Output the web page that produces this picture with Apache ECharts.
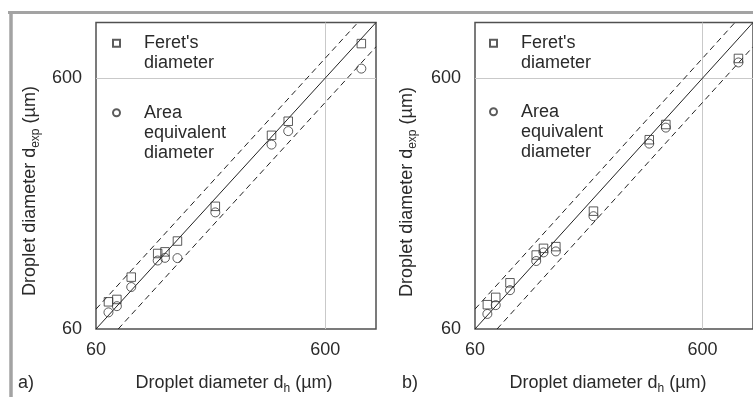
<!DOCTYPE html>
<html>
<head>
<meta charset="utf-8">
<script src="https://cdn.jsdelivr.net/npm/echarts@6.0.0/dist/echarts.min.js"></script>
<style>
html,body{margin:0;padding:0;background:#fff;}
#chart{width:753px;height:397px;}
</style>
</head>
<body>
<div id="chart"></div>
<script>
// ---- data ----
const dh = [68, 74, 85.5, 111.5, 120, 136, 199, 350, 414, 863];           // theoretical droplet diameter (µm)
const feretA = [77, 78.7, 96.6, 120, 121.8, 134.5, 185, 355, 404, 824];    // panel a) Feret's diameter
const areaA  = [69.9, 74, 88.2, 112.5, 115.3, 115, 175, 326, 369, 655];    // panel a) area equivalent diameter
const feretB = [75, 80.2, 91.7, 118.3, 125.8, 127.8, 177, 341, 392, 719];  // panel b) Feret's diameter
const areaB  = [68.9, 74.7, 85.7, 112, 121.2, 122.3, 169, 329, 381, 693];  // panel b) area equivalent diameter
const axisMin = 60, axisMax = 1000;
const tickLabels = [60, 600];
const gridValues = [600];
const tolerance = 0.2;   // ±20 % lines
const nameFeret = "Feret's diameter";
const nameArea = "Area equivalent diameter";

const FONT = '"Liberation Sans", Arial, sans-serif';
const TXT = '#2a2a2a';
const LINE = '#222';

const pairs = (xs, ys) => xs.map((x, i) => [x, ys[i]]);
const unity = [[axisMin, axisMin], [axisMax, axisMax]];
const upper = [[axisMin, axisMin * (1 + tolerance)], [axisMax / (1 + tolerance), axisMax]];
const lower = [[axisMin / (1 - tolerance), axisMin], [axisMax, axisMax * (1 - tolerance)]];

function axis(gi) {
  return {
    type: 'log', gridIndex: gi, min: axisMin, max: axisMax, logBase: 10,
    axisLine: {show: false},
    axisTick: {show: false, customValues: gridValues},
    axisLabel: {customValues: tickLabels, fontSize: 18, color: TXT, fontFamily: FONT, margin: 12},
    splitLine: {show: true, lineStyle: {color: '#c9c9c9', width: 1}},
    minorSplitLine: {show: false}
  };
}
function yaxis(gi) {
  const a = axis(gi);
  a.axisLabel.margin = 14;
  return a;
}

function panelSeries(gi, feret, area) {
  const lineBase = {type: 'line', xAxisIndex: gi, yAxisIndex: gi, symbol: 'none', silent: true,
    clip: true, z: 1};
  return [
    Object.assign({}, lineBase, {data: unity, lineStyle: {color: LINE, width: 1}}),
    Object.assign({}, lineBase, {data: upper, lineStyle: {color: LINE, width: 1, type: [6, 4]}}),
    Object.assign({}, lineBase, {data: lower, lineStyle: {color: LINE, width: 1, type: [6, 4]}}),
    {type: 'scatter', name: nameFeret, xAxisIndex: gi, yAxisIndex: gi, symbol: 'rect', symbolSize: 8.5,
      data: pairs(dh, feret), z: 3,
      itemStyle: {color: 'rgba(255,255,255,0)', borderColor: '#333', borderWidth: 1}},
    {type: 'scatter', name: nameArea, xAxisIndex: gi, yAxisIndex: gi, symbol: 'circle', symbolSize: 9,
      data: pairs(dh, area), z: 4,
      itemStyle: {color: 'rgba(255,255,255,0)', borderColor: '#333', borderWidth: 1}}
  ];
}

// leading blank lines keep the marker level with the first text line
function legend(name, left, top) {
  return {
    data: [name], left: left, top: top, orient: 'vertical', padding: 0,
    itemWidth: 7, itemHeight: 7, selectedMode: false,
    formatter: n => {
      const words = n.split(' ');
      return '\n'.repeat(words.length - 1) + words.join('\n');
    },
    textStyle: {fontSize: 18, lineHeight: 20, color: TXT, fontFamily: FONT, padding: [0, 0, 0, 19]}
  };
}

function title(text, x, y, rot) {
  return {
    type: 'text', x: x, y: y, rotation: rot ? Math.PI / 2 : 0, silent: true,
    style: {
      text: text, fontSize: 18, fontFamily: FONT, fill: TXT, align: 'center', verticalAlign: 'middle',
      rich: {s: {fontSize: 12, fontFamily: FONT, fill: TXT, padding: [12, 0, 0, 0]}}
    }
  };
}

const chart = echarts.init(document.getElementById('chart'), null, {renderer: 'canvas'});
chart.setOption({
  animation: false,
  backgroundColor: '#fff',
  grid: [
    {left: 96, top: 22.5, width: 280, height: 306.5, show: true, borderColor: '#505050', borderWidth: 1.5, backgroundColor: 'transparent'},
    {left: 475, top: 22.5, width: 281, height: 306.5, show: true, borderColor: '#505050', borderWidth: 1.5, backgroundColor: 'transparent'}
  ],
  xAxis: [axis(0), axis(1)],
  yAxis: [yaxis(0), yaxis(1)],
  legend: [
    legend(nameFeret, 112, 13.3),
    legend(nameArea, 112, 62.7),
    legend(nameFeret, 489, 13.3),
    legend(nameArea, 489, 61.7)
  ],
  series: [].concat(panelSeries(0, feretA, areaA), panelSeries(1, feretB, areaB)),
  graphic: [
    {type: 'line', shape: {x1: 8, y1: 12.5, x2: 753, y2: 12.5}, style: {stroke: '#a3a3a3', lineWidth: 3}, silent: true},
    {type: 'line', shape: {x1: 11, y1: 11, x2: 11, y2: 397}, style: {stroke: '#a3a3a3', lineWidth: 3.5}, silent: true},
    title('Droplet diameter d{s|exp} (µm)', 30, 191, true),
    title('Droplet diameter d{s|exp} (µm)', 407, 192, true),
    title('Droplet diameter d{s|h} (µm)', 234, 383, false),
    title('Droplet diameter d{s|h} (µm)', 608, 383, false),
    {type: 'text', x: 18, y: 383, silent: true, style: {text: 'a)', fontSize: 18, fontFamily: FONT, fill: TXT, verticalAlign: 'middle'}},
    {type: 'text', x: 402, y: 383, silent: true, style: {text: 'b)', fontSize: 18, fontFamily: FONT, fill: TXT, verticalAlign: 'middle'}}
  ]
});
</script>
</body>
</html>
